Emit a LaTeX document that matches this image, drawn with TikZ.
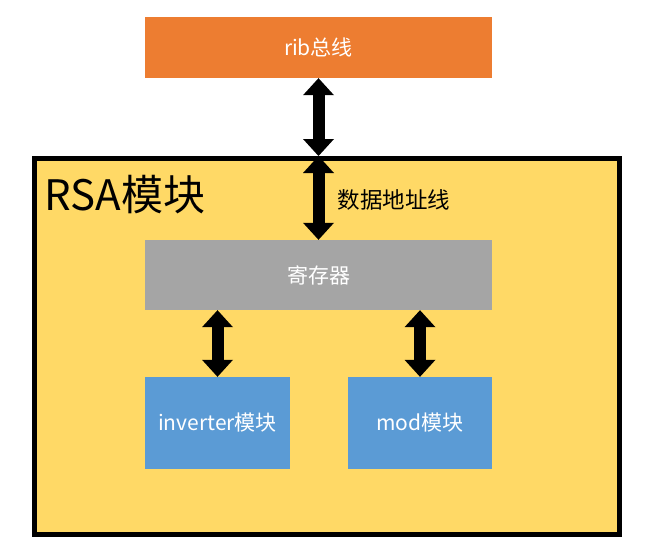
\documentclass[tikz,border=0pt]{standalone}
\usepackage{fontspec}
\setmainfont{Noto Sans CJK SC}
\usetikzlibrary{arrows.meta}

\definecolor{ribOrange}{HTML}{ED7D31}
\definecolor{rsaYellow}{HTML}{FFD966}
\definecolor{regGray}{HTML}{A5A5A5}
\definecolor{modBlue}{HTML}{5B9BD5}

\begin{document}
\begin{tikzpicture}[x=1pt, y=-1pt,
    block/.style={inner sep=0pt, text=white, font=\fontsize{21}{25}\selectfont},
    bigarrow/.style={line width=12pt,
      {Triangle[width=31pt, length=17pt, line width=0pt]}-{Triangle[width=31pt, length=17pt, line width=0pt]}}]
    \useasboundingbox (0, 0) rectangle (647, 552);

    % top bus and the outer module
    \node [block, fill=ribOrange, minimum width=347pt, minimum height=61pt] (rib) at (318.5, 47.5) {rib总线};
    \node [draw, line width=5pt, fill=rsaYellow, minimum width=585pt, minimum height=376pt] (rsa) at (327, 346.5) {};
    \node [font=\fontsize{42}{50}\selectfont] (rsatitle) at (125, 195) {RSA模块};

    % inside the module
    \node [block, fill=regGray, minimum width=347pt, minimum height=70pt] (reg) at (318.5, 275) {寄存器};
    \node [block, fill=modBlue, minimum width=145pt, minimum height=92pt] (inv) at (217.5, 423) {inverter模块};
    \node [block, fill=modBlue, minimum width=144pt, minimum height=92pt] (mod) at (420, 423) {mod模块};

    % connections
    \draw [bigarrow] (rib.south) -- (rib.south |- rsa.north);
    \draw [bigarrow] (rib.south |- rsa.north) -- (reg.north -| rib.south);
    \node [font=\fontsize{22.5}{27}\selectfont, anchor=west] (addr) at (334, 200) {数据地址线};
    \draw [bigarrow] (reg.south -| inv.north) -- (inv.north);
    \draw [bigarrow] (reg.south -| mod.north) -- (mod.north);
\end{tikzpicture}
\end{document}
